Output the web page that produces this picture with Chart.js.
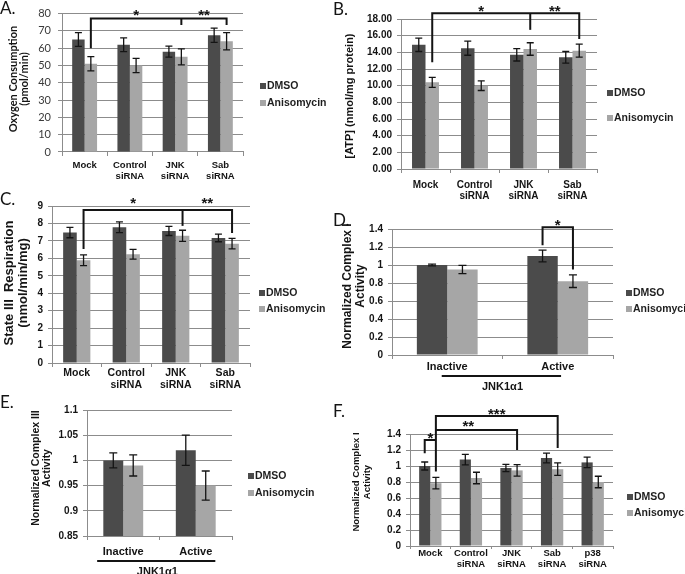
<!DOCTYPE html>
<html>
<head>
<meta charset="utf-8">
<script src="https://cdn.jsdelivr.net/npm/chart.js@4.4.0/dist/chart.umd.min.js"></script>
<style>
  body { margin: 0; background: #fff; }
  #wrap { position: relative; width: 685px; height: 574px; overflow: hidden; }
  #wrap canvas { position: absolute; left: -40px; top: 0; }
</style>
</head>
<body>
<div id="wrap">
  <canvas id="chartA" width="765" height="620"></canvas>
  <canvas id="chartB" width="765" height="620"></canvas>
  <canvas id="chartC" width="765" height="620"></canvas>
  <canvas id="chartD" width="765" height="620"></canvas>
  <canvas id="chartE" width="765" height="620"></canvas>
  <canvas id="chartF" width="765" height="620"></canvas>
</div>
<script>
// ---- data ----
const seriesLabels = ['DMSO', 'Anisomycin'];
const seriesColors = ['#4b4b4b', '#a6a6a6'];

const catsSiRNA = [['Mock'], ['Control', 'siRNA'], ['JNK', 'siRNA'], ['Sab', 'siRNA']];
const catsJnk = ['Inactive', 'Active'];
const catsF = [['Mock'], ['Control', 'siRNA'], ['JNK', 'siRNA'], ['Sab', 'siRNA'], ['p38', 'siRNA']];

// A. oxygen consumption (pmol/min)
const dmsoA = [65, 62, 58, 67.5];
const dmsoErrA = [4, 4, 3.2, 4.1];
const anisoA = [51, 50, 55, 64];
const anisoErrA = [4.1, 4.1, 4.6, 5];
const ticksA = [0, 10, 20, 30, 40, 50, 60, 70, 80];

// B. ATP (nmol/mg protein)
const dmsoB = [14.9, 14.5, 13.7, 13.4];
const dmsoErrB = [0.8, 0.85, 0.74, 0.7];
const anisoB = [10.4, 10.0, 14.4, 14.2];
const anisoErrB = [0.6, 0.58, 0.75, 0.78];
const ticksB = [0, 2, 4, 6, 8, 10, 12, 14, 16, 18];

// C. state III respiration (nmol/min/mg)
const dmsoC = [7.48, 7.78, 7.57, 7.17];
const dmsoErrC = [0.3, 0.31, 0.26, 0.22];
const anisoC = [5.89, 6.23, 7.29, 6.84];
const anisoErrC = [0.31, 0.28, 0.32, 0.3];
const ticksC = [0, 1, 2, 3, 4, 5, 6, 7, 8, 9];

// D. normalized complex I activity, JNK1a1
const dmsoD = [1.0, 1.1];
const dmsoErrD = [0.01, 0.065];
const anisoD = [0.95, 0.82];
const anisoErrD = [0.045, 0.07];
const ticksD = [0, 0.2, 0.4, 0.6, 0.8, 1, 1.2, 1.4];

// E. normalized complex III activity, JNK1a1
const dmsoE = [1.0, 1.02];
const dmsoErrE = [0.015, 0.03];
const anisoE = [0.99, 0.95];
const anisoErrE = [0.021, 0.029];
const ticksE = [0.85, 0.9, 0.95, 1, 1.05, 1.1];

// F. normalized complex I activity, siRNA
const dmsoF = [1.0, 1.08, 0.975, 1.1, 1.045];
const dmsoErrF = [0.05, 0.065, 0.045, 0.062, 0.065];
const anisoF = [0.785, 0.85, 0.945, 0.96, 0.80];
const anisoErrF = [0.072, 0.072, 0.072, 0.078, 0.072];
const ticksF = [0, 0.2, 0.4, 0.6, 0.8, 1, 1.2, 1.4];

// ---- drawing ----
// canvases are shifted 40px left and run past the page bottom,
// so axis boxes have room for their labels
const OX = 40, CW = 765, CH = 620;
const SANS = "'Liberation Sans', Arial, sans-serif";
const CAL = "Lato, 'Open Sans', sans-serif";
const gridColor = '#8c8c8c';
const ink = '#141414';

function barX(chart, c, s) {
  return chart.getDatasetMeta(s).data[c].x;
}

const extras = {
  id: 'extras',
  afterDatasetsDraw(chart, args, o) {
    const ctx = chart.ctx, y = chart.scales.y;
    ctx.save();
    ctx.strokeStyle = ink;
    ctx.lineWidth = 1.3;
    chart.data.datasets.forEach((ds, di) => {
      chart.getDatasetMeta(di).data.forEach((bar, i) => {
        const v = ds.data[i], e = ds.errors[i];
        const t = y.getPixelForValue(v + e), b = y.getPixelForValue(v - e);
        const w = o.cap || 3.5;
        ctx.beginPath();
        ctx.moveTo(bar.x, t); ctx.lineTo(bar.x, b);
        ctx.moveTo(bar.x - w, t); ctx.lineTo(bar.x + w, t);
        ctx.moveTo(bar.x - w, b); ctx.lineTo(bar.x + w, b);
        ctx.stroke();
      });
    });
    ctx.restore();
  },
  afterDraw(chart, args, o) {
    const ctx = chart.ctx, x = chart.scales.x, y = chart.scales.y;
    ctx.save();
    // significance brackets
    ctx.strokeStyle = ink;
    ctx.lineWidth = 2;
    (o.brackets || []).forEach(line => {
      ctx.beginPath();
      line.forEach((p, k) => {
        const px = barX(chart, p[0], p[1]), py = y.getPixelForValue(p[2]);
        if (k === 0) ctx.moveTo(px, py); else ctx.lineTo(px, py);
      });
      ctx.stroke();
    });
    ctx.fillStyle = ink;
    ctx.font = 'bold 15px ' + SANS;
    ctx.textAlign = 'center';
    ctx.textBaseline = 'alphabetic';
    (o.stars || []).forEach(s => {
      const x1 = barX(chart, s.a[0], s.a[1]), x2 = barX(chart, s.b[0], s.b[1]);
      const f = s.f === undefined ? 0.5 : s.f;
      ctx.fillText(s.t, x1 + (x2 - x1) * f, y.getPixelForValue(s.v) + 8.6);
    });
    // group underline
    if (o.group) {
      const g = o.group;
      ctx.lineWidth = 2;
      ctx.beginPath();
      ctx.moveTo(x.getPixelForValue(g.from), g.lineY);
      ctx.lineTo(x.getPixelForValue(g.to), g.lineY);
      ctx.stroke();
      ctx.font = 'bold 11px ' + SANS;
      ctx.textBaseline = 'middle';
      ctx.fillText(g.text, x.getPixelForValue(g.at), g.textY);
    }
    // the rest is placed in page coordinates
    ctx.translate(OX, 0);
    const lg = o.legend;
    ctx.font = 'bold 10.5px ' + SANS;
    ctx.textAlign = 'left';
    ctx.textBaseline = 'middle';
    seriesLabels.forEach((name, i) => {
      ctx.fillStyle = seriesColors[i];
      ctx.fillRect(lg.x, lg.y[i] - 3, 6, 6);
      ctx.fillStyle = '#1e1e1e';
      ctx.fillText(name, lg.x + 7, lg.y[i] + 0.5);
    });
    const tt = o.title;
    ctx.font = tt.font;
    ctx.textAlign = 'center';
    ctx.fillStyle = ink;
    tt.lines.forEach((txt, i) => {
      ctx.save();
      ctx.translate(tt.x[i], tt.cy);
      ctx.rotate(-Math.PI / 2);
      ctx.fillText(txt, 0, 0);
      ctx.restore();
    });
    ctx.font = '17px ' + CAL;
    ctx.textAlign = 'left';
    ctx.textBaseline = 'alphabetic';
    ctx.fillText(o.letter.t, o.letter.x, o.letter.y);
    ctx.restore();
  }
};

function makeChart(id, cfg) {
  const p = cfg.plot;
  return new Chart(document.getElementById(id), {
    type: 'bar',
    data: {
      labels: cfg.labels,
      datasets: [
        { label: seriesLabels[0], data: cfg.dmso, errors: cfg.dmsoErr, backgroundColor: seriesColors[0] },
        { label: seriesLabels[1], data: cfg.aniso, errors: cfg.anisoErr, backgroundColor: seriesColors[1] }
      ]
    },
    options: {
      responsive: false,
      animation: false,
      events: [],
      layout: { padding: { left: p.l + OX - 50, top: p.t, right: CW - OX - p.r, bottom: CH - p.b - 40 } },
      datasets: { bar: { categoryPercentage: 0.55, barPercentage: 1 } },
      scales: {
        x: {
          grid: { offset: true, drawOnChartArea: false, tickLength: cfg.xTick || 4, color: gridColor },
          border: { color: gridColor },
          ticks: {
            font: { family: SANS, weight: 'bold', size: cfg.xFont, lineHeight: 1.15 },
            color: ink, padding: cfg.xPad, maxRotation: 0, autoSkip: false
          },
          afterFit: s => { s.height = 40; }
        },
        y: {
          min: cfg.yTicks[0],
          max: cfg.yTicks[cfg.yTicks.length - 1],
          grid: { color: gridColor, tickLength: 4 },
          border: { color: gridColor },
          ticks: {
            font: cfg.yFont,
            color: cfg.yColor || ink,
            padding: cfg.yPad || 5,
            callback: cfg.fmt || (v => String(+v.toFixed(2)))
          },
          afterBuildTicks: s => { s.ticks = cfg.yTicks.map(v => ({ value: v })); },
          afterFit: s => { s.width = 50; }
        }
      },
      plugins: { legend: { display: false }, tooltip: { enabled: false }, extras: cfg.extras }
    },
    plugins: [extras]
  });
}

const tickBold = { family: SANS, weight: 'bold', size: 10 };

makeChart('chartA', {
  plot: { l: 62, t: 7, r: 243, b: 152 },
  labels: catsSiRNA, dmso: dmsoA, dmsoErr: dmsoErrA, aniso: anisoA, anisoErr: anisoErrA,
  yTicks: ticksA, yFont: { family: CAL, size: 11 }, yColor: '#3a3a3a', yPad: 7,
  xFont: 9.5, xPad: 4,
  extras: {
    brackets: [[[0, 1, 60], [0, 1, 77.2], [3, 1, 77.2], [3, 1, 73.4]], [[2, 1, 77.2], [2, 1, 73.4]]],
    stars: [{ a: [0, 1], b: [2, 1], v: 81.1, t: '*' }, { a: [2, 1], b: [3, 1], v: 81.1, t: '**' }],
    legend: { x: 260, y: [86, 103] },
    title: { lines: ['Oxygen Consumption', '(pmol/min)'], x: [13, 24], cy: 79, font: 'bold 11px ' + CAL },
    letter: { t: 'A.', x: 0, y: 14 }
  }
});

makeChart('chartB', {
  plot: { l: 401, t: 19, r: 597, b: 169 },
  labels: catsSiRNA, dmso: dmsoB, dmsoErr: dmsoErrB, aniso: anisoB, anisoErr: anisoErrB,
  yTicks: ticksB, yFont: tickBold, fmt: v => v.toFixed(2),
  xFont: 10, xPad: 6,
  extras: {
    brackets: [[[0, 1, 12.8], [0, 1, 18.7], [3, 1, 18.7], [3, 1, 15.6]], [[2, 1, 18.7], [2, 1, 16.7]]],
    stars: [{ a: [0, 1], b: [2, 1], v: 19.44, t: '*' }, { a: [2, 1], b: [3, 1], v: 19.44, t: '**' }],
    legend: { x: 607, y: [93, 118] },
    title: { lines: ['[ATP] (nmol/mg protein)'], x: [350], cy: 96, font: 'bold 11px ' + SANS },
    letter: { t: 'B.', x: 333, y: 15 }
  }
});

makeChart('chartC', {
  plot: { l: 52, t: 206, r: 250, b: 363 },
  labels: catsSiRNA, dmso: dmsoC, dmsoErr: dmsoErrC, aniso: anisoC, anisoErr: anisoErrC,
  yTicks: ticksC, yFont: tickBold,
  xFont: 10.5, xPad: 0,
  extras: {
    brackets: [[[0, 1, 6.54], [0, 1, 8.77], [3, 1, 8.77], [3, 1, 7.45]], [[2, 1, 8.77], [2, 1, 7.86]]],
    stars: [{ a: [0, 1], b: [2, 1], v: 9.35, t: '*' }, { a: [2, 1], b: [3, 1], v: 9.35, t: '**' }],
    legend: { x: 259, y: [293, 309] },
    title: { lines: ['State III  Respiration', '(nmol/min/mg)'], x: [9, 23], cy: 283, font: 'bold 13px ' + SANS },
    letter: { t: 'C.', x: 0, y: 205 }
  }
});

makeChart('chartD', {
  plot: { l: 392, t: 229, r: 613, b: 355 },
  labels: catsJnk, dmso: dmsoD, dmsoErr: dmsoErrD, aniso: anisoD, anisoErr: anisoErrD,
  yTicks: ticksD, yFont: tickBold,
  xFont: 11, xPad: 1.5,
  extras: {
    cap: 4,
    brackets: [[[1, 0, 1.22], [1, 0, 1.42], [1, 1, 1.42], [1, 1, 0.95]]],
    stars: [{ a: [1, 0], b: [1, 1], v: 1.49, t: '*' }],
    legend: { x: 626, y: [293, 309] },
    title: { lines: ['Normalized Complex I', 'Activity'], x: [348, 361], cy: 286, font: 'bold 12px ' + SANS },
    group: { from: -0.05, to: 1.03, at: 0.5, lineY: 376, textY: 387, text: 'JNK1α1' },
    letter: { t: 'D.', x: 333, y: 226 }
  }
});

makeChart('chartE', {
  plot: { l: 87, t: 410, r: 232, b: 536 },
  labels: catsJnk, dmso: dmsoE, dmsoErr: dmsoErrE, aniso: anisoE, anisoErr: anisoErrE,
  yTicks: ticksE, yFont: tickBold,
  xFont: 11, xPad: 6,
  extras: {
    cap: 4,
    brackets: [],
    stars: [],
    legend: { x: 248, y: [476, 493] },
    title: { lines: ['Normalized Complex III', 'Activity'], x: [36, 47], cy: 468, font: 'bold 10.5px ' + SANS },
    group: { from: -0.36, to: 1.27, at: 0.47, lineY: 561, textY: 572, text: 'JNK1α1' },
    letter: { t: 'E.', x: 0, y: 408 }
  }
});

makeChart('chartF', {
  plot: { l: 410, t: 434, r: 613, b: 546 },
  labels: catsF, dmso: dmsoF, dmsoErr: dmsoErrF, aniso: anisoF, anisoErr: anisoErrF,
  yTicks: ticksF, yFont: tickBold,
  xFont: 9.5, xPad: -1, xTick: 3,
  extras: {
    brackets: [
      [[0, 0, 1.16], [0, 0, 1.325], [0, 1, 1.325]],
      [[0, 1, 0.93], [0, 1, 1.625], [3, 1, 1.625], [3, 1, 1.225]],
      [[0, 1, 1.45], [2, 1, 1.45], [2, 1, 1.2]]
    ],
    stars: [
      { a: [0, 0], b: [0, 1], v: 1.39, t: '*' },
      { a: [0, 1], b: [2, 1], v: 1.54, t: '**', f: 0.4 },
      { a: [0, 1], b: [3, 1], v: 1.69, t: '***' }
    ],
    legend: { x: 627, y: [497, 513] },
    title: { lines: ['Normalized Complex I', 'Activity'], x: [356, 367], cy: 482, font: 'bold 9.5px ' + SANS },
    letter: { t: 'F.', x: 333, y: 417 }
  }
});
</script>
</body>
</html>
